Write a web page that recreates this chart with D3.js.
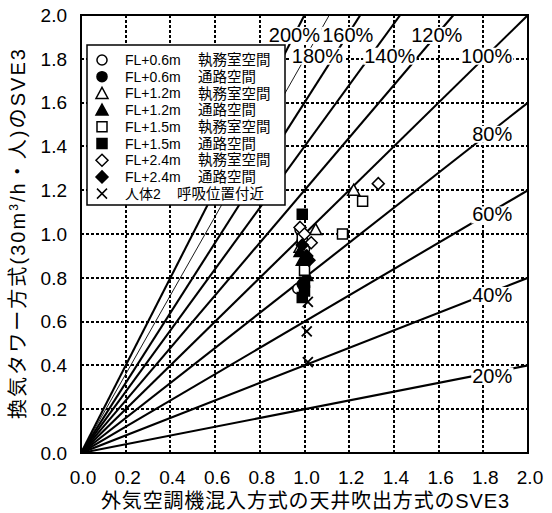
<!DOCTYPE html>
<html>
<head>
<meta charset="utf-8">
<script src="https://cdn.jsdelivr.net/npm/d3@7"></script>
<style>
  html, body { margin: 0; padding: 0; background: #fff; }
  svg { display: block; font-family: "Liberation Sans", Arial, "Noto Sans CJK JP", sans-serif; }
</style>
</head>
<body>
<div id="chart"></div>
<script>
// ratio lines (y = k * x) and their labels
var ratios = [0.2, 0.4, 0.6, 0.8, 1.0, 1.2, 1.4, 1.6, 1.8, 2.0];
var ratioLabels = ["20%", "40%", "60%", "80%", "100%", "120%", "140%", "160%", "180%", "200%"];

var xTicks = [0.0, 0.2, 0.4, 0.6, 0.8, 1.0, 1.2, 1.4, 1.6, 1.8, 2.0];
var yTicks = [0.0, 0.2, 0.4, 0.6, 0.8, 1.0, 1.2, 1.4, 1.6, 1.8, 2.0];

// legend text
var seriesHeight = ["FL+0.6m", "FL+0.6m", "FL+1.2m", "FL+1.2m", "FL+1.5m", "FL+1.5m", "FL+2.4m", "FL+2.4m", "人体2"];
var seriesZone = ["執務室空間", "通路空間", "執務室空間", "通路空間", "執務室空間", "通路空間", "執務室空間", "通路空間", "呼吸位置付近"];

// measured points [x, y] per series
var fl06Office = [[0.97, 0.75], [0.98, 1.02], [1.00, 0.93]];
var fl06Aisle = [[0.99, 0.97], [1.00, 0.86], [0.99, 0.77]];
var fl12Office = [[1.22, 1.20], [1.05, 1.02], [0.98, 0.94]];
var fl12Aisle = [[0.98, 0.92], [1.01, 0.81], [0.99, 0.88]];
var fl15Office = [[1.26, 1.15], [1.17, 1.00], [1.00, 0.835], [0.99, 0.98]];
var fl15Aisle = [[0.99, 1.09], [0.99, 0.71], [1.00, 0.78], [1.00, 0.74]];
var fl24Office = [[1.33, 1.23], [0.98, 1.03], [1.03, 0.96], [1.00, 1.00]];
var fl24Aisle = [[1.02, 0.88], [1.01, 0.90], [0.99, 0.95]];
var body2 = [[1.015, 0.69], [1.01, 0.555], [1.015, 0.415]];

var seriesPoints = [fl06Office, fl06Aisle, fl12Office, fl12Aisle, fl15Office, fl15Aisle, fl24Office, fl24Aisle, body2];
var seriesShape = ["circle", "circle", "triangle", "triangle", "square", "square", "diamond", "diamond", "cross"];
var seriesFilled = [false, true, false, true, false, true, false, true, false];

var W = 552, H = 513;
var pL = 81, pR = 528, pT = 15, pB = 453;

var svg = d3.select("#chart").append("svg")
    .attr("width", W).attr("height", H);

var x = d3.scaleLinear().domain([0, 2]).range([pL, pR]);
var y = d3.scaleLinear().domain([0, 2]).range([pB, pT]);

// marker paths centred at 0,0
function shapePath(s) {
  if (s == "circle") return d3.symbol(d3.symbolCircle, 80)();
  if (s == "square") return "M-5,-5H5V5H-5Z";
  if (s == "triangle") return "M0,-6L6,5H-6Z";
  if (s == "diamond") return "M0,-6L6,0L0,6L-6,0Z";
  return "M-5,-5L5,5M5,-5L-5,5";
}

// grid (whole pixels so the dots stay black)
var grid = svg.append("g");
grid.selectAll("line.gx")
    .data(xTicks.slice(1, -1))
  .enter().append("line")
    .attr("x1", function(d) { return Math.round(x(d)); }).attr("x2", function(d) { return Math.round(x(d)); })
    .attr("y1", y(0)).attr("y2", y(2))
    .style("stroke", "#000").style("stroke-width", 2).style("stroke-dasharray", "3,2");
grid.selectAll("line.gy")
    .data(yTicks.slice(1, -1))
  .enter().append("line")
    .attr("y1", function(d) { return Math.round(y(d)); }).attr("y2", function(d) { return Math.round(y(d)); })
    .attr("x1", x(0)).attr("x2", x(2))
    .style("stroke", "#000").style("stroke-width", 2).style("stroke-dasharray", "3,2");

// ratio lines, clipped to the frame
svg.append("clipPath").attr("id", "plotclip")
  .append("rect").attr("x", pL).attr("y", pT).attr("width", pR - pL).attr("height", pB - pT);

svg.append("g").attr("clip-path", "url(#plotclip)")
  .selectAll("line")
    .data(ratios)
  .enter().append("line")
    .attr("x1", x(0)).attr("y1", y(0))
    .attr("x2", function(k) { return x(Math.min(2, 2 / k)); })
    .attr("y2", function(k) { return y(Math.min(2, 2 * k)); })
    .style("stroke", "#000")
    .style("stroke-width", function(k) { return k == 1.8 ? 0.9 : 2.1; });

// where each ratio label sits: on its line, except 140% / 180% which are shifted right
function labelPos(k) {
  if (k <= 0.8) return [x(1.84), y(1.84 * k) + 3];
  var yy = (k == 1.2 || k == 1.6 || k == 2.0) ? 1.91 : 1.815;
  var px = x(yy / k);
  if (k == 1.4) px += 19;
  if (k == 1.8) px += 11;
  return [px, y(yy)];
}

var lab = svg.append("g").selectAll("g")
    .data(ratios)
  .enter().append("g")
    .attr("transform", function(k) { var p = labelPos(k); return "translate(" + p[0] + "," + p[1] + ")"; });
lab.append("text")
    .attr("text-anchor", "middle")
    .attr("dy", "0.36em")
    .style("font-size", "20px")
    .text(function(k, i) { return ratioLabels[i]; });
lab.insert("rect", "text")
    .each(function() {
      var b = this.parentNode.querySelector("text").getBBox();
      d3.select(this).attr("x", b.x - 1).attr("y", b.y + 3).attr("width", b.width + 2).attr("height", b.height - 5);
    })
    .style("fill", "#fff");

// points
seriesPoints.forEach(function(pts, si) {
  var filled = seriesFilled[si], sh = seriesShape[si];
  svg.append("g").selectAll("path")
      .data(pts)
    .enter().append("path")
      .attr("transform", function(d) { return "translate(" + x(d[0]) + "," + y(d[1]) + ")"; })
      .attr("d", shapePath(sh))
      .style("fill", sh == "cross" ? "none" : (filled ? "#000" : "#fff"))
      .style("stroke", "#000")
      .style("stroke-width", sh == "cross" ? 1.8 : 1.5);
});

// legend
var lg = svg.append("g");
lg.append("rect")
    .attr("x", 87).attr("y", 45).attr("width", 198).attr("height", 160)
    .style("fill", "#fff").style("stroke", "#000").style("stroke-width", 1.5);
var rows = lg.selectAll("g.row")
    .data(seriesHeight)
  .enter().append("g")
    .attr("class", "row")
    .attr("transform", function(d, i) { return "translate(0," + (60 + i * 16.7) + ")"; });
rows.append("path")
    .attr("transform", "translate(102,0)")
    .attr("d", function(d, i) { return shapePath(seriesShape[i]); })
    .style("fill", function(d, i) { return seriesShape[i] == "cross" ? "none" : (seriesFilled[i] ? "#000" : "#fff"); })
    .style("stroke", "#000").style("stroke-width", 1.5);
rows.append("text")
    .attr("x", 125).attr("dy", "0.36em")
    .style("font-size", "14px")
    .text(function(d) { return d; });
rows.append("text")
    .attr("x", function(d, i) { return i == 8 ? 177 : 198; }).attr("dy", "0.36em")
    .style("font-size", "14.5px")
    .text(function(d, i) { return seriesZone[i]; });

// frame
svg.append("rect")
    .attr("x", pL).attr("y", pT).attr("width", pR - pL).attr("height", pB - pT)
    .style("fill", "none").style("stroke", "#000").style("stroke-width", 2);

// tick labels
svg.append("g").selectAll("text")
    .data(xTicks)
  .enter().append("text")
    .attr("x", function(d) { return x(d) + 2; }).attr("y", 484)
    .attr("text-anchor", "middle")
    .style("font-size", "19px")
    .text(function(d) { return d.toFixed(1); });
svg.append("g").selectAll("text")
    .data(yTicks)
  .enter().append("text")
    .attr("x", 67).attr("y", function(d) { return y(d); })
    .attr("dy", "0.36em")
    .attr("text-anchor", "end")
    .style("font-size", "19px")
    .text(function(d) { return d.toFixed(1); });

// axis titles
svg.append("text")
    .attr("x", 305).attr("y", 508)
    .attr("text-anchor", "middle")
    .attr("textLength", 408).attr("lengthAdjust", "spacing")
    .style("font-size", "20px")
    .text("外気空調機混入方式の天井吹出方式のSVE3");

var yt = svg.append("text")
    .attr("transform", "translate(25,234) rotate(-90)")
    .attr("text-anchor", "middle")
    .attr("textLength", 370).attr("lengthAdjust", "spacing")
    .style("font-size", "20px");
yt.append("tspan").text("換気タワー方式(30m");
yt.append("tspan").attr("dy", -7).style("font-size", "12px").text("3");
yt.append("tspan").attr("dy", 7).text("/h・人)のSVE3");
</script>
</body>
</html>
